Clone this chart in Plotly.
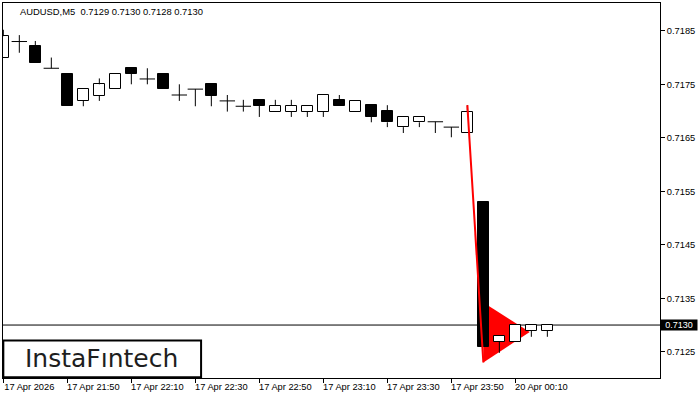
import plotly.graph_objects as go

# ---------------- data ----------------
opens  = [0.71800, 0.71830, 0.71821, 0.71780, 0.71770, 0.71719, 0.71729, 0.71741, 0.71780, 0.71760,
          0.71770, 0.71730, 0.71741, 0.71750, 0.71719, 0.71709, 0.71721, 0.71699, 0.71699, 0.71699,
          0.71699, 0.71721, 0.71699, 0.71711, 0.71700, 0.71670, 0.71679, 0.71680, 0.71670, 0.71659,
          0.71530, 0.71269, 0.71269, 0.71289, 0.71289]
highs  = [0.71852, 0.71842, 0.71831, 0.71800, 0.71770, 0.71741, 0.71761, 0.71770, 0.71780, 0.71780,
          0.71770, 0.71750, 0.71741, 0.71750, 0.71730, 0.71721, 0.71721, 0.71721, 0.71721, 0.71710,
          0.71730, 0.71730, 0.71719, 0.71711, 0.71711, 0.71689, 0.71689, 0.71680, 0.71670, 0.71711,
          0.71530, 0.71279, 0.71300, 0.71300, 0.71300]
lows   = [0.71800, 0.71809, 0.71790, 0.71780, 0.71710, 0.71709, 0.71719, 0.71741, 0.71750, 0.71750,
          0.71741, 0.71719, 0.71709, 0.71709, 0.71699, 0.71699, 0.71689, 0.71699, 0.71689, 0.71689,
          0.71689, 0.71710, 0.71699, 0.71679, 0.71670, 0.71659, 0.71670, 0.71659, 0.71651, 0.71659,
          0.71259, 0.71248, 0.71269, 0.71278, 0.71278]
closes = [0.71840, 0.71830, 0.71790, 0.71780, 0.71710, 0.71741, 0.71750, 0.71770, 0.71770, 0.71760,
          0.71741, 0.71730, 0.71741, 0.71729, 0.71719, 0.71709, 0.71710, 0.71710, 0.71710, 0.71710,
          0.71730, 0.71710, 0.71719, 0.71689, 0.71679, 0.71689, 0.71689, 0.71680, 0.71670, 0.71699,
          0.71259, 0.71279, 0.71300, 0.71300, 0.71300]
bar_index = list(range(len(opens)))

time_tick_index = [0, 4, 8, 12, 16, 20, 24, 28, 32]
time_tick_text = ["17 Apr 2026", "17 Apr 21:50", "17 Apr 22:10", "17 Apr 22:30", "17 Apr 22:50",
                  "17 Apr 23:10", "17 Apr 23:30", "17 Apr 23:50", "20 Apr 00:10"]
price_ticks = [0.7125, 0.7135, 0.7145, 0.7155, 0.7165, 0.7175, 0.7185]
price_tick_text = ["0.7125", "0.7135", "0.7145", "0.7155", "0.7165", "0.7175", "0.7185"]
last_price = 0.7130
last_price_text = "0.7130"

pole_x = [29, 30]
pole_y = [0.71711, 0.71230]
pennant_x = [30, 30, 32.9]
pennant_y = [0.71342, 0.71230, 0.71287]

header_text = "AUDUSD,M5\u00a0 0.7129 0.7130 0.7128 0.7130"
logo_text = "InstaF\u0131ntech"

x_range = [-0.02, 41.04]
y_range = [0.71201, 0.71902]

# ---------------- build marks ----------------
body_x, body_base, body_h, body_col = [], [], [], []
doji_x, doji_y = [], []
wick_x, wick_y = [], []
for i, o, h, l, c in zip(bar_index, opens, highs, lows, closes):
    top, bot = max(o, c), min(o, c)
    if abs(c - o) > 1e-9:
        body_x.append(i)
        body_base.append(bot)
        body_h.append(top - bot)
        body_col.append("white" if c > o else "black")
    else:
        doji_x.append(i)
        doji_y.append(o)
    if h > top + 1e-9:
        wick_x += [i, i, None]
        wick_y += [top, h, None]
    if l < bot - 1e-9:
        wick_x += [i, i, None]
        wick_y += [bot, l, None]

fig = go.Figure()
fig.add_trace(go.Bar(x=body_x, y=body_h, base=body_base, width=0.66,
                     marker=dict(color=body_col, line=dict(color="black", width=1)),
                     hoverinfo="skip"))
fig.add_trace(go.Scatter(x=wick_x, y=wick_y, mode="lines",
                         line=dict(color="black", width=1), hoverinfo="skip"))
fig.add_trace(go.Scatter(x=doji_x, y=doji_y, mode="markers",
                         marker=dict(symbol="line-ew", size=11,
                                     line=dict(color="black", width=1)),
                         hoverinfo="skip"))
fig.add_trace(go.Scatter(x=pole_x, y=pole_y, mode="lines",
                         line=dict(color="#ff0000", width=2), hoverinfo="skip"))

# pennant triangle (behind candles)
path = "M {} {} L {} {} L {} {} Z".format(pennant_x[0], pennant_y[0],
                                          pennant_x[1], pennant_y[1],
                                          pennant_x[2], pennant_y[2])
fig.add_shape(type="path", path=path, xref="x", yref="y",
              fillcolor="#ff0000", line=dict(width=0), layer="below")
# last price line
fig.add_shape(type="line", xref="paper", x0=0, x1=1, yref="y", y0=last_price, y1=last_price,
              line=dict(color="black", width=1), layer="below")
# logo box
fig.add_shape(type="rect", xref="paper", yref="paper", x0=0.0005, x1=0.3015, y0=0.002, y1=0.1,
              fillcolor="white", line=dict(color="black", width=2), layer="above")

fig.add_annotation(xref="paper", yref="paper", x=0.1502, y=0.051, xanchor="center", yanchor="middle",
                   text=logo_text, showarrow=False,
                   font=dict(family="DejaVu Sans", size=25, color="#1e1e1e"))
fig.add_annotation(xref="paper", yref="paper", x=0.0233, y=0.977, xanchor="left", yanchor="middle",
                   text=header_text, showarrow=False,
                   font=dict(family="Liberation Sans", size=9.4, color="black"))
fig.add_annotation(xref="paper", yref="y", x=1, y=last_price, xanchor="left", yanchor="middle",
                   text=last_price_text, showarrow=False, bgcolor="black",
                   width=34, height=8, borderpad=1,
                   font=dict(family="Liberation Sans", size=9, color="white"))

fig.update_layout(
    width=700, height=400,
    margin=dict(l=3, r=40, t=3, b=22),
    paper_bgcolor="white", plot_bgcolor="white",
    showlegend=False,
    font=dict(family="Liberation Sans", size=9.3, color="black"),
    xaxis=dict(range=x_range, tickmode="array", tickvals=time_tick_index, ticktext=time_tick_text,
               ticks="outside", ticklen=4, tickcolor="black", tickwidth=1,
               showline=True, linecolor="black", linewidth=1, mirror=True,
               showgrid=False, zeroline=False,
               ticklabelshift=26, ticklabelstandoff=-4, fixedrange=True),
    yaxis=dict(range=y_range, side="right", tickmode="array", tickvals=price_ticks,
               ticktext=price_tick_text, ticks="outside", ticklen=4, tickcolor="black",
               showline=True, linecolor="black", linewidth=1, mirror=True,
               showgrid=False, zeroline=False, fixedrange=True),
    bargap=0,
)

fig.write_html("out.html", config={"displayModeBar": False},
               post_script="document.body.style.margin='0';document.body.style.overflow='hidden';")
